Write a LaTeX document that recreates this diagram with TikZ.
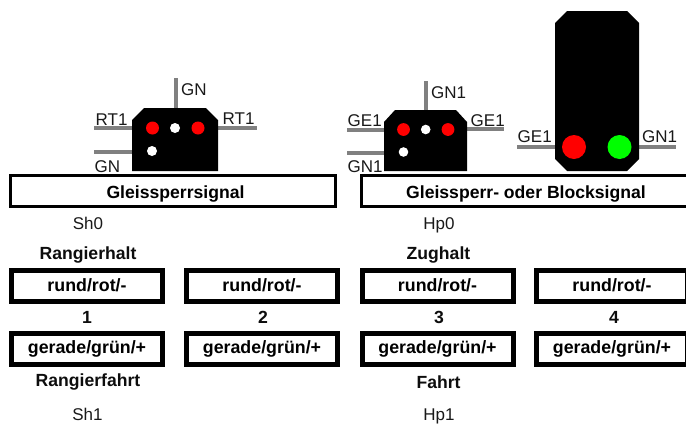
\documentclass[tikz,border=0pt]{standalone}
\usepackage{fontspec}
\setmainfont{Liberation Sans}
\begin{document}
\begin{tikzpicture}[x=1pt,y=-1pt,
  lbl/.style={font=\fontsize{17}{19}\selectfont,inner sep=0pt,text=black!90,anchor=base west},
  plain/.style={font=\fontsize{17}{19}\selectfont,inner sep=0pt,text=black!90,anchor=base},
  blbl/.style={font=\fontsize{17.6}{19}\selectfont\bfseries,inner sep=0pt,text=black!95},
  wire/.style={draw=black!50,line width=4pt},
  body/.style={fill=black,draw=none},
  hdr/.style={draw=black,line width=3.2pt,fill=white,inner sep=0pt,minimum height=31pt,text height=14pt,text depth=0pt,font=\fontsize{17.6}{19}\selectfont\bfseries},
  cellbox/.style={draw=black,line width=5pt,fill=white,inner sep=0pt,minimum width=151pt,minimum height=31pt,font=\fontsize{17.8}{19}\selectfont\bfseries}]
\useasboundingbox (0,0) rectangle (686,426);
% small signal 1
\coordinate (a1) at (176,78); \coordinate (a2) at (176,110);
\coordinate (b1) at (94,128); \coordinate (b2) at (134,128);
\coordinate (c1) at (216,128); \coordinate (c2) at (257,128);
\coordinate (d1) at (94,152); \coordinate (d2) at (134,152);
\draw[wire] (a1)--(a2); \draw[wire] (b1)--(b2); \draw[wire] (c1)--(c2); \draw[wire] (d1)--(d2);
\fill[body] (132,120)--(144,108)--(206,108)--(218,120)--(218,171)--(132,171)--cycle;
\fill[red] (152.5,128) circle (6.5); \fill[white] (175,128) circle (5);
\fill[red] (198,128) circle (6.5); \fill[white] (152,151) circle (5);
\node[lbl] (t1) at (181,95) {GN};
\node[lbl] (t2) at (95.5,125) {RT1};
\node[lbl] (t3) at (222.5,124) {RT1};
\node[lbl] (t4) at (94.5,172) {GN};
% small signal 2
\coordinate (e1) at (426,81); \coordinate (e2) at (426,112);
\coordinate (f1) at (347,130); \coordinate (f2) at (387,130);
\coordinate (g1) at (465,129); \coordinate (g2) at (504,129);
\coordinate (h1) at (347,153); \coordinate (h2) at (387,153);
\draw[wire] (e1)--(e2); \draw[wire] (f1)--(f2); \draw[wire] (g1)--(g2); \draw[wire] (h1)--(h2);
\fill[body] (384,122)--(395,110)--(456,110)--(467,122)--(467,171)--(384,171)--cycle;
\fill[red] (403.5,129.5) circle (6.4); \fill[white] (425.7,129.5) circle (4.8);
\fill[red] (448,129.5) circle (6.4); \fill[white] (403.5,152) circle (4.8);
\node[lbl] (t5) at (431,98) {GN1};
\node[lbl] (t6) at (347.5,126) {GE1};
\node[lbl] (t7) at (470.5,126) {GE1};
\node[lbl] (t8) at (347.5,172) {GN1};
% big signal
\coordinate (i1) at (517,147); \coordinate (i2) at (557,147);
\coordinate (j1) at (636,147); \coordinate (j2) at (676,147);
\draw[wire] (i1)--(i2); \draw[wire] (j1)--(j2);
\fill[body] (555,23)--(567,11)--(627,11)--(639,23)--(639,159)--(627,171)--(567,171)--(555,159)--cycle;
\fill[red] (574,147) circle (12); \fill[green] (619.5,147) circle (12);
\node[lbl] (t9) at (517.5,142) {GE1};
\node[lbl] (t10) at (642,142) {GN1};
% headers
\node[hdr,minimum width=325pt] (h1b) at (173,191) {\hspace*{5pt}Gleissperrsignal};
\node[hdr,minimum width=329pt] (h2b) at (526,191) {Gleissperr- oder Blocksignal};
\node[plain] (sh0) at (88,229.5) {Sh0};
\node[plain] (hp0) at (439,229.5) {Hp0};
\node[blbl] (rh) at (88,255) {Rangierhalt};
\node[blbl] (zh) at (438.5,255) {Zughalt};
\foreach \n/\x/\tx/\t in {k1/87/87/1,k2/262/263/2,k3/437.5/439/3,k4/612/614/4}{
  \node[cellbox] (\n a) at (\x,285.5) {rund/rot/-};
  \node[cellbox] (\n b) at (\x,348.5) {gerade/grün/+};
  \node[blbl] (\n t) at (\tx,317) {\t};
}
\node[blbl] (rf) at (88,382) {Rangierfahrt};
\node[blbl] (fa) at (438.5,382) {Fahrt};
\node[plain] (sh1) at (87.5,420.5) {Sh1};
\node[plain] (hp1) at (439,420.5) {Hp1};
\end{tikzpicture}
\end{document}
